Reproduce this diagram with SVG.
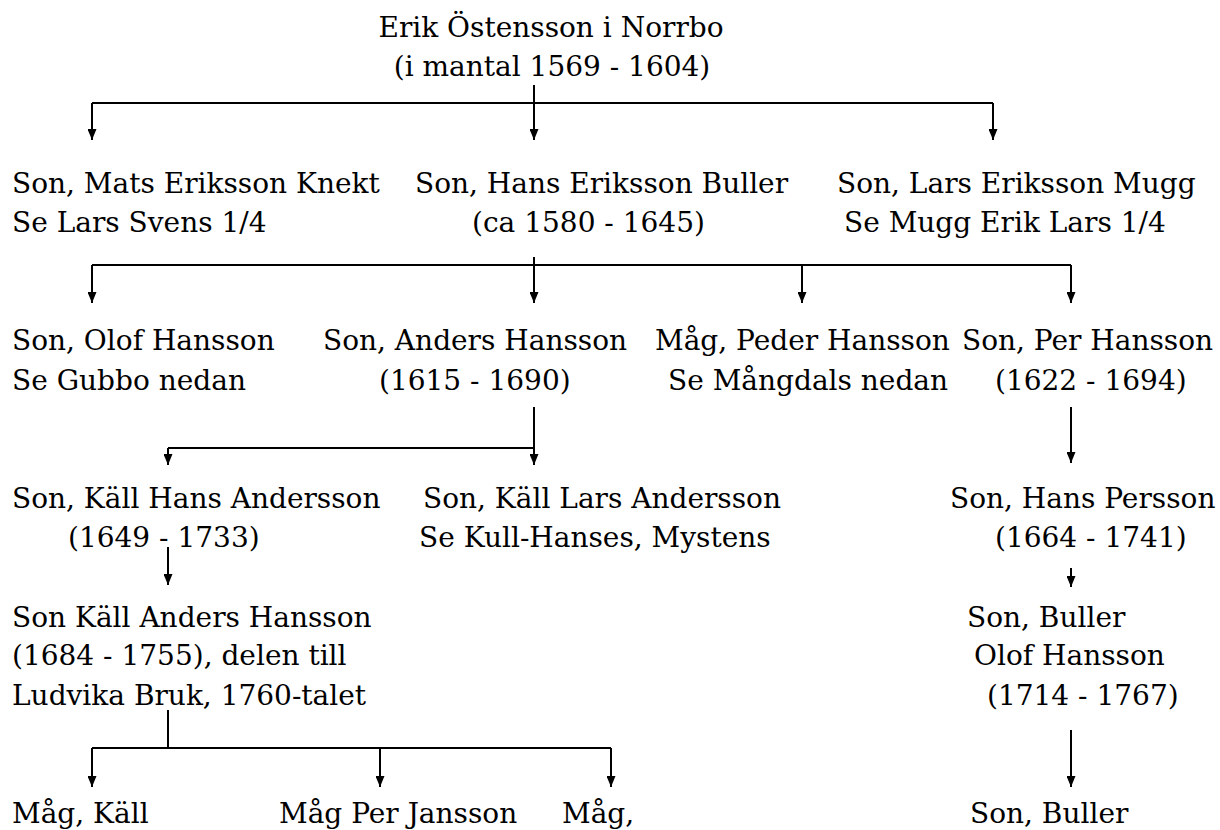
<svg xmlns="http://www.w3.org/2000/svg" width="1220" height="830" viewBox="0 0 1220 830">
<defs>
<marker id="ah" viewBox="0 0 11 9" refX="11" refY="4.5" markerWidth="11" markerHeight="9" markerUnits="userSpaceOnUse" orient="auto"><path d="M0,0 L11,4.5 L0,9 z" fill="#000"/></marker>
<style>
text{font-family:"DejaVu Serif","Liberation Serif",serif;font-size:28px;fill:#000}
.c{text-anchor:middle}
.ln{fill:none;stroke:#000;stroke-width:2}
.ar{fill:none;stroke:#000;stroke-width:2;marker-end:url(#ah)}
</style>
</defs>
<rect width="1220" height="830" fill="#fff"/>
<g id="connectors">
<path class="ln" d="M92,103 H993"/>
<path class="ar" d="M534,85 V140"/>
<path class="ar" d="M92,103 V140"/>
<path class="ar" d="M993,103 V140"/>
<path class="ln" d="M92,265 H1071"/>
<path class="ar" d="M534,257 V303"/>
<path class="ar" d="M92,265 V303"/>
<path class="ar" d="M802,265 V303"/>
<path class="ar" d="M1071,265 V303"/>
<path class="ln" d="M168,448 H534"/>
<path class="ar" d="M534,407 V465"/>
<path class="ar" d="M168,448 V465"/>
<path class="ar" d="M1071,407 V463"/>
<path class="ar" d="M168,547 V585"/>
<path class="ar" d="M1071,568 V587"/>
<path class="ln" d="M168,710 V748 M92,748 H611"/>
<path class="ar" d="M92,748 V787"/>
<path class="ar" d="M380,748 V787"/>
<path class="ar" d="M611,748 V787"/>
<path class="ar" d="M1071,730 V787"/>
</g>
<g id="n-erik"><text class="c" x="551" y="37">Erik Östensson i Norrbo</text><text class="c" x="552" y="76">(i mantal 1569 - 1604)</text></g>
<g id="n-mats"><text x="12" y="193">Son, Mats Eriksson Knekt</text><text x="12" y="232">Se Lars Svens 1/4</text></g>
<g id="n-hans"><text x="415" y="193">Son, Hans Eriksson Buller</text><text x="472" y="232">(ca 1580 - 1645)</text></g>
<g id="n-lars"><text x="837" y="193">Son, Lars Eriksson Mugg</text><text x="844" y="232">Se Mugg Erik Lars 1/4</text></g>
<g id="n-olof"><text x="12" y="350">Son, Olof Hansson</text><text x="12" y="390">Se Gubbo nedan</text></g>
<g id="n-anders"><text x="323" y="350">Son, Anders Hansson</text><text x="379" y="390">(1615 - 1690)</text></g>
<g id="n-peder"><text x="655" y="350">Måg, Peder Hansson</text><text x="668" y="390">Se Mångdals nedan</text></g>
<g id="n-per"><text x="962" y="350">Son, Per Hansson</text><text x="995" y="390">(1622 - 1694)</text></g>
<g id="n-kallhans"><text x="12" y="508">Son, Käll Hans Andersson</text><text x="68" y="547">(1649 - 1733)</text></g>
<g id="n-kalllars"><text x="423" y="508">Son, Käll Lars Andersson</text><text x="419" y="547">Se Kull-Hanses, Mystens</text></g>
<g id="n-hanspersson"><text x="950" y="508">Son, Hans Persson</text><text x="995" y="547">(1664 - 1741)</text></g>
<g id="n-kallanders"><text x="12" y="627">Son Käll Anders Hansson</text><text x="12" y="665">(1684 - 1755), delen till</text><text x="12" y="705">Ludvika Bruk, 1760-talet</text></g>
<g id="n-bullerolof"><text x="967" y="627">Son, Buller</text><text x="974" y="665">Olof Hansson</text><text x="987" y="705">(1714 - 1767)</text></g>
<g id="n-magkall"><text x="12" y="823">Måg, Käll</text></g>
<g id="n-magper"><text x="279" y="823">Måg Per Jansson</text></g>
<g id="n-mag"><text x="562" y="823">Måg,</text></g>
<g id="n-buller2"><text x="970" y="823">Son, Buller</text></g>
</svg>
